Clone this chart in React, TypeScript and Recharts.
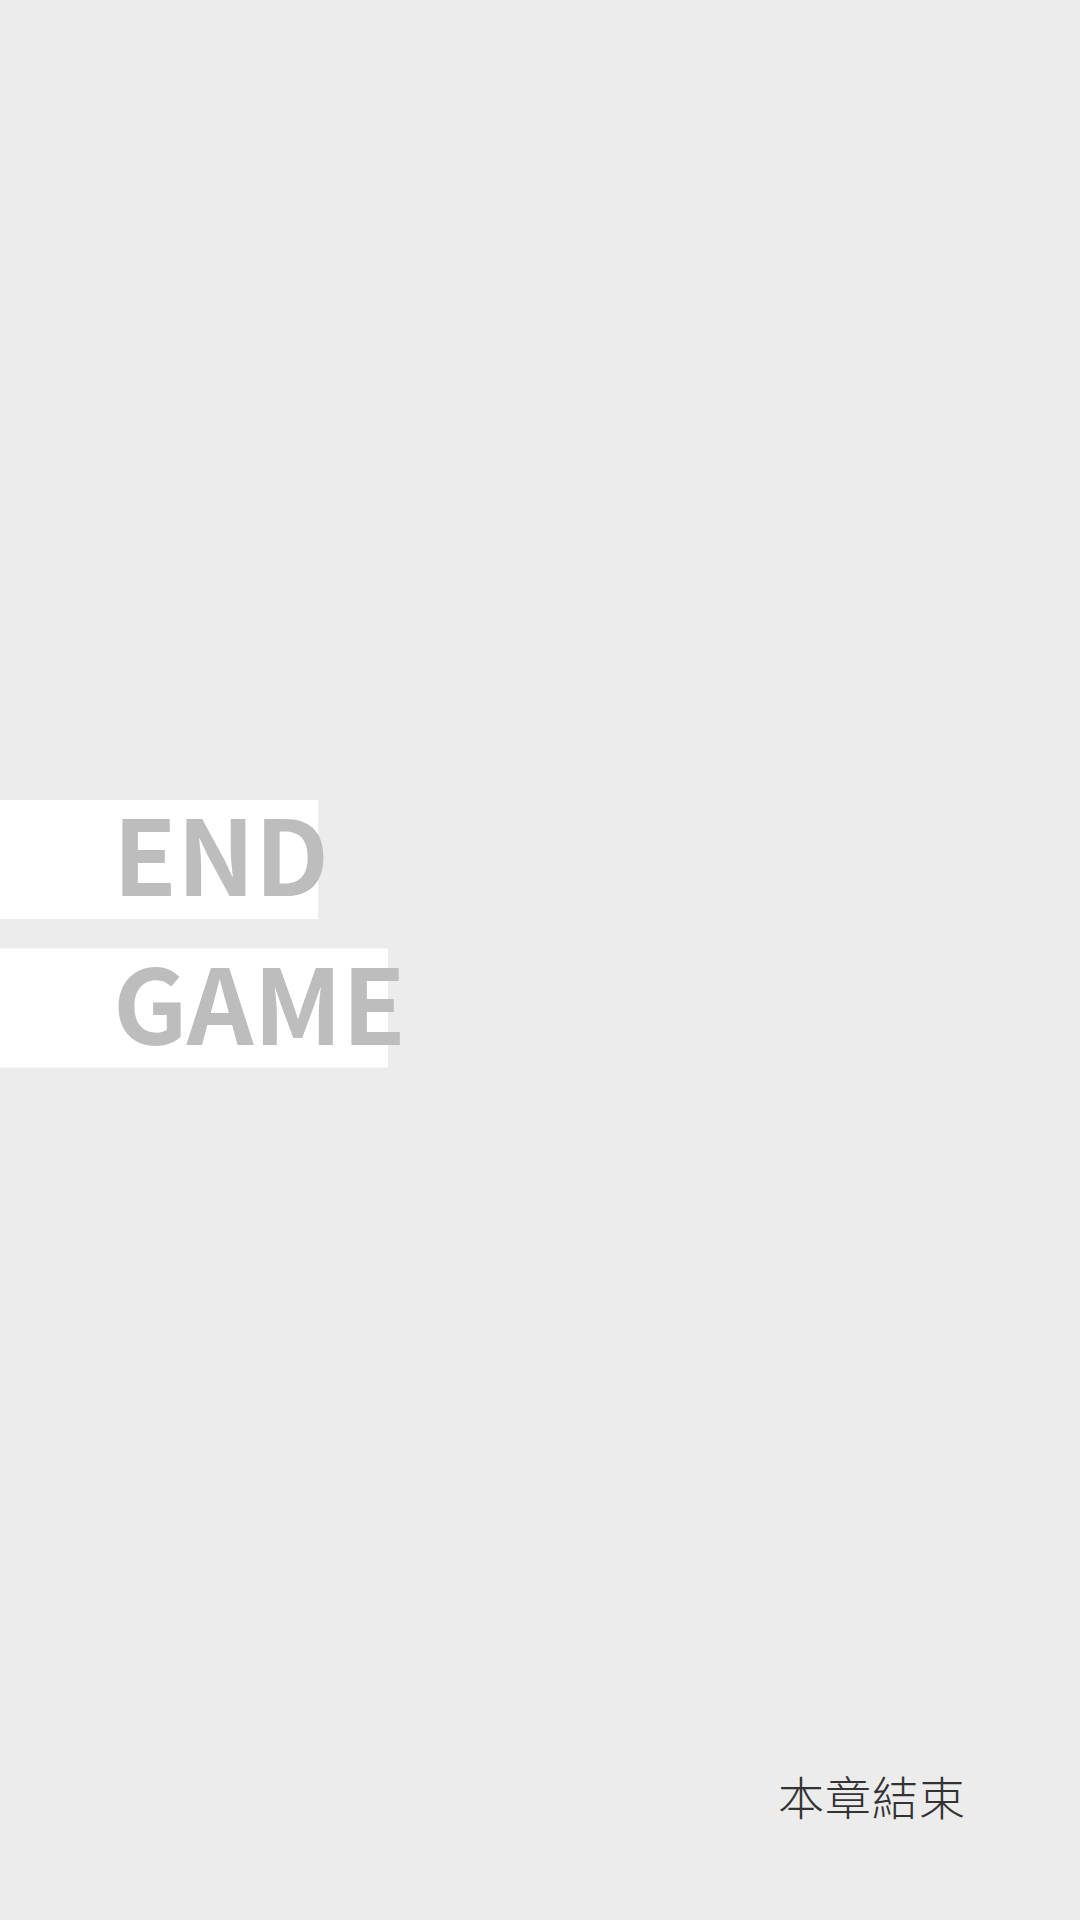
import { BarChart, Bar, XAxis, YAxis, LabelList } from 'recharts';

const words = ['END', 'GAME'];
const lengths = [318, 388];
const footer = '本章結束';

const data = words.map((w, i) => ({ name: w, len: lengths[i] }));

export default function App() {
  return (
    <div style={{ position: 'relative', width: 1080, height: 1920, background: '#ececec', overflow: 'hidden' }}>
      <style>{'body{margin:0}'}</style>
      <div style={{ position: 'absolute', left: 0, top: 785 }}>
        <BarChart
          width={1080}
          height={297}
          data={data}
          layout="vertical"
          margin={{ top: 0, right: 0, bottom: 0, left: 0 }}
        >
          <XAxis type="number" domain={[0, 1080]} hide />
          <YAxis type="category" dataKey="name" hide />
          <Bar dataKey="len" fill="#ffffff" barSize={119} isAnimationActive={false}>
            <LabelList
              dataKey="name"
              position="insideLeft"
              offset={113}
              fill="#bdbdbd"
              style={{ fontFamily: '"Noto Sans CJK TC", "Noto Sans", sans-serif', fontWeight: 700, fontSize: 104 }}
            />
          </Bar>
        </BarChart>
      </div>
      <div
        style={{
          position: 'absolute',
          left: 778,
          top: 1762,
          fontFamily: '"Noto Sans CJK TC", sans-serif',
          fontWeight: 300,
          fontSize: 46,
          color: '#333333',
          letterSpacing: 1,
        }}
      >
        {footer}
      </div>
    </div>
  );
}
